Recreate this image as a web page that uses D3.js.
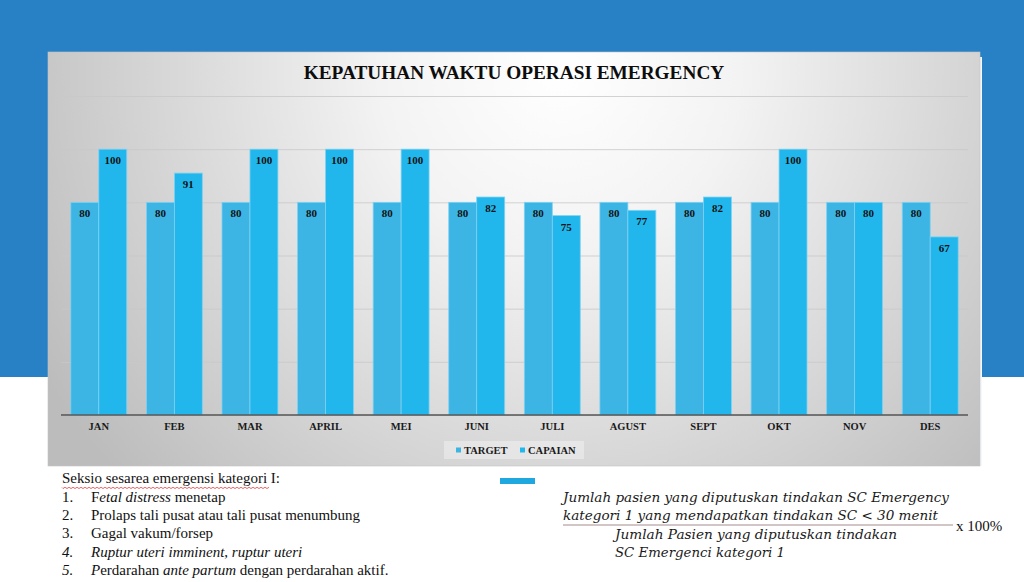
<!DOCTYPE html>
<html>
<head>
<meta charset="utf-8">
<script src="https://cdn.jsdelivr.net/npm/d3@7/dist/d3.min.js"></script>
<style>
  html, body { margin: 0; padding: 0; background: #fff; }
  svg { display: block; }
</style>
</head>
<body>
<div id="chart"></div>
<script>
var months = ['JAN', 'FEB', 'MAR', 'APRIL', 'MEI', 'JUNI', 'JULI', 'AGUST', 'SEPT', 'OKT', 'NOV', 'DES'];
var seriesNames = ['TARGET', 'CAPAIAN'];
var target = [80, 80, 80, 80, 80, 80, 80, 80, 80, 80, 80, 80];
var capaian = [100, 91, 100, 100, 100, 82, 75, 77, 82, 100, 80, 67];
var yTicks = [0, 20, 40, 60, 80, 100, 120];

var title = 'KEPATUHAN WAKTU OPERASI EMERGENCY';
var notesHead = 'Seksio sesarea emergensi kategori I:';
// each list item is a number plus runs of [text, italic]
var notes = [
  {num: '1.', numItalic: false, runs: [['F', false], ['etal distress', true], [' menetap', false]]},
  {num: '2.', numItalic: false, runs: [['Prolaps tali pusat atau tali pusat menumbung', false]]},
  {num: '3.', numItalic: false, runs: [['Gagal vakum/forsep', false]]},
  {num: '4.', numItalic: true, runs: [['Ruptur uteri imminent', true], [', ', false], ['ruptur uteri', true]]},
  {num: '5.', numItalic: true, runs: [['P', true], ['erdarahan ', false], ['ante partum', true], [' dengan perdarahan aktif.', false]]}
];
var formulaTop = ['Jumlah pasien yang diputuskan tindakan SC Emergency',
  'kategori 1 yang mendapatkan tindakan SC < 30 menit'];
var formulaBottom = ['Jumlah Pasien yang diputuskan tindakan',
  'SC Emergenci kategori 1'];
var formulaFactor = 'x 100%';

var W = 1024, H = 582;
var serif = '"Liberation Serif", "Times New Roman", serif';
var mathFont = '"DejaVu Serif", serif';
var colors = ['#3cb4e4', '#22b7ec'];

var svg = d3.select('#chart').append('svg')
  .attr('width', W)
  .attr('height', H)
  .attr('viewBox', '0 0 ' + W + ' ' + H);

var defs = svg.append('defs');
var grad = defs.append('radialGradient')
  .attr('id', 'panelGrad')
  .attr('gradientUnits', 'userSpaceOnUse')
  .attr('cx', 560).attr('cy', 70).attr('r', 600);
grad.append('stop').attr('offset', '0%').attr('stop-color', '#ffffff');
grad.append('stop').attr('offset', '30%').attr('stop-color', '#f3f3f3');
grad.append('stop').attr('offset', '100%').attr('stop-color', '#bcbcbc');

// slide background: blue band on top, white below
svg.append('rect').attr('x', 0).attr('y', 0).attr('width', W).attr('height', H).attr('fill', '#ffffff');
svg.append('rect').attr('x', 0).attr('y', 0).attr('width', W).attr('height', 377).attr('fill', '#2880c5');

// chart panel
var panel = {x: 48, y: 52, w: 932, h: 414};
svg.append('rect')
  .attr('x', panel.x + panel.w).attr('y', panel.y + 5)
  .attr('width', 2).attr('height', panel.h - 5)
  .attr('fill', '#f4f8fb');
svg.append('rect')
  .attr('x', panel.x).attr('y', panel.y)
  .attr('width', panel.w).attr('height', panel.h)
  .attr('fill', 'url(#panelGrad)')
  .attr('stroke', '#c4c4c4')
  .attr('stroke-width', 0.6);

svg.append('text')
  .attr('x', panel.x + panel.w / 2)
  .attr('y', 79)
  .attr('text-anchor', 'middle')
  .style('font-family', serif)
  .style('font-weight', 'bold')
  .style('font-size', '19.3px')
  .style('fill', '#0d0d0d')
  .text(title);

// scales
var plot = {left: 61, right: 968, top: 96, bottom: 415};
var x0 = d3.scaleBand()
  .domain(months)
  .range([plot.left, plot.right])
  .paddingInner(0.26)
  .paddingOuter(0.13);
var x1 = d3.scaleBand()
  .domain(seriesNames)
  .range([0, x0.bandwidth()]);
var y = d3.scaleLinear()
  .domain([0, 120])
  .range([plot.bottom, plot.top]);

// gridlines via axis
var grid = svg.append('g')
  .attr('transform', 'translate(' + plot.left + ',0)')
  .call(d3.axisLeft(y).tickValues(yTicks).tickSize(-(plot.right - plot.left)).tickFormat(''));
grid.select('.domain').remove();
grid.selectAll('.tick line')
  .attr('stroke', '#c8c8c8')
  .attr('stroke-opacity', 0.8)
  .attr('stroke-width', 1);

var data = months.map(function (m, i) {
  return {month: m, values: [{key: 'TARGET', v: target[i]}, {key: 'CAPAIAN', v: capaian[i]}]};
});

var groups = svg.selectAll('g.month')
  .data(data)
  .enter()
  .append('g')
  .attr('class', 'month')
  .attr('transform', function (d) {
    return 'translate(' + x0(d.month) + ',0)';
  });

groups.selectAll('rect')
  .data(function (d) { return d.values; })
  .enter()
  .append('rect')
  .attr('x', function (d) { return x1(d.key); })
  .attr('y', function (d) { return y(d.v); })
  .attr('width', x1.bandwidth())
  .attr('height', function (d) { return y(0) - y(d.v); })
  .attr('fill', function (d, i) { return colors[i]; })
  .attr('stroke', '#7fd2f2')
  .attr('stroke-width', 0.8);

groups.selectAll('text')
  .data(function (d) { return d.values; })
  .enter()
  .append('text')
  .attr('x', function (d) { return x1(d.key) + x1.bandwidth() / 2; })
  .attr('y', function (d) { return y(d.v) + 15; })
  .attr('text-anchor', 'middle')
  .style('font-family', serif)
  .style('font-weight', 'bold')
  .style('font-size', '11px')
  .style('fill', '#111')
  .text(function (d) { return d.v; });

// category axis
var xAxis = svg.append('g')
  .attr('transform', 'translate(0,' + plot.bottom + ')')
  .call(d3.axisBottom(x0).tickSize(0).tickPadding(8));
xAxis.select('.domain')
  .attr('d', 'M' + plot.left + ',0H' + plot.right)
  .attr('stroke', '#555')
  .attr('stroke-width', 1.6);
xAxis.selectAll('text')
  .style('font-family', serif)
  .style('font-weight', 'bold')
  .style('font-size', '10.5px')
  .style('fill', '#1a1a1a');

// legend
var legend = svg.append('g');
legend.append('rect')
  .attr('x', 444).attr('y', 441)
  .attr('width', 140).attr('height', 18)
  .attr('fill', '#ffffff')
  .attr('fill-opacity', 0.35);
var legendX = [456, 520];
seriesNames.forEach(function (name, i) {
  legend.append('rect')
    .attr('x', legendX[i]).attr('y', 447.5)
    .attr('width', 5).attr('height', 5)
    .attr('fill', colors[i]);
  legend.append('text')
    .attr('x', legendX[i] + 8).attr('y', 454)
    .style('font-family', serif)
    .style('font-weight', 'bold')
    .style('font-size', '10.5px')
    .style('fill', '#1a1a1a')
    .text(name);
});

// small blue bar under the panel
svg.append('rect')
  .attr('x', 500).attr('y', 478)
  .attr('width', 35).attr('height', 6)
  .attr('fill', '#1fa8e0');

// notes
var notesG = svg.append('g')
  .style('font-family', serif)
  .style('font-size', '15px')
  .style('fill', '#111');
notesG.append('text')
  .attr('x', 62).attr('y', 483)
  .text(notesHead);

// spell-check squiggle under the first four words
var squig = d3.path();
var sx = 62, sEnd = 270, sy = 487.5;
squig.moveTo(sx, sy);
for (var k = sx; k < sEnd; k += 2) {
  squig.lineTo(k + 1, sy + ((k - sx) / 2 % 2 === 0 ? 1 : -0.2));
}
svg.append('path')
  .attr('d', squig.toString())
  .attr('fill', 'none')
  .attr('stroke', '#e04040')
  .attr('stroke-width', 0.8);

notes.forEach(function (item, i) {
  var yy = 502 + i * 18.2;
  notesG.append('text')
    .attr('x', 62).attr('y', yy)
    .style('font-style', item.numItalic ? 'italic' : 'normal')
    .text(item.num);
  var t = notesG.append('text')
    .attr('x', 91).attr('y', yy)
    .attr('xml:space', 'preserve');
  item.runs.forEach(function (r) {
    t.append('tspan')
      .style('font-style', r[1] ? 'italic' : 'normal')
      .text(r[0]);
  });
});

// formula
var fG = svg.append('g')
  .style('font-family', mathFont)
  .style('font-style', 'italic')
  .style('font-size', '13.5px')
  .style('fill', '#1a1a1a');
var topLines = [{x: 563, y: 502, w: 386}, {x: 563, y: 520, w: 375}];
var botLines = [{x: 615, y: 539, w: 282}, {x: 615, y: 557, w: 170}];
formulaTop.forEach(function (s, i) {
  fG.append('text')
    .attr('x', topLines[i].x).attr('y', topLines[i].y)
    .attr('textLength', topLines[i].w)
    .attr('lengthAdjust', 'spacingAndGlyphs')
    .text(s);
});
formulaBottom.forEach(function (s, i) {
  fG.append('text')
    .attr('x', botLines[i].x).attr('y', botLines[i].y)
    .attr('textLength', botLines[i].w)
    .attr('lengthAdjust', 'spacingAndGlyphs')
    .text(s);
});
svg.append('line')
  .attr('x1', 563).attr('x2', 953)
  .attr('y1', 525).attr('y2', 525)
  .attr('stroke', '#9a7f80')
  .attr('stroke-width', 0.9);
svg.append('text')
  .attr('x', 956).attr('y', 531)
  .style('font-family', serif)
  .style('font-size', '15px')
  .style('fill', '#111')
  .text(formulaFactor);
</script>
</body>
</html>
